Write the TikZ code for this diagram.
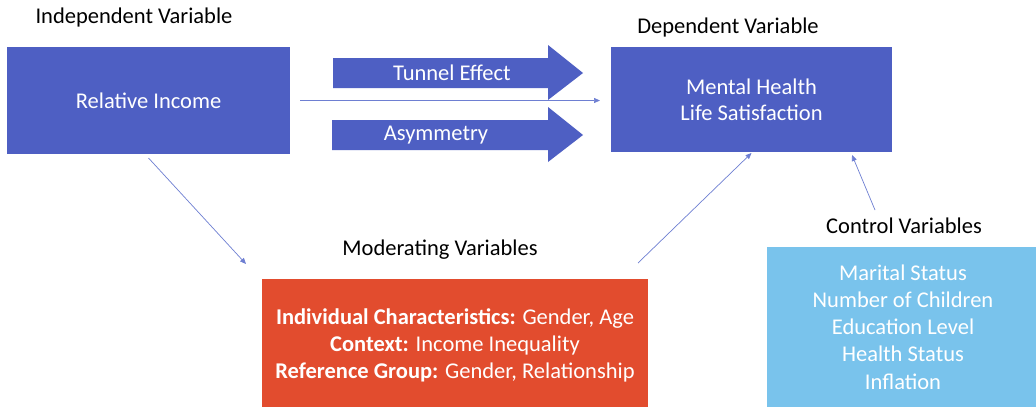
\documentclass[tikz,border=0pt]{standalone}
\usepackage{fontspec}
\setmainfont{Carlito}
\usetikzlibrary{arrows.meta}
\definecolor{boxblue}{HTML}{4E5FC3}
\definecolor{boxred}{HTML}{E24C2E}
\definecolor{boxcyan}{HTML}{79C3EC}
\definecolor{linkblue}{HTML}{6E7FD2}
\tikzset{
  boxbase/.style={rectangle, draw=none, text=white, align=center, font=\fontsize{22.5}{27}\selectfont, inner sep=0pt, outer sep=0pt},
  label/.style={text=black, font=\fontsize{22.5}{27}\selectfont, inner sep=0pt},
  link/.style={draw=linkblue, line width=0.7pt, -{Triangle[length=6pt,width=5pt]}},
  blockarrow/.style={fill=boxblue, draw=none},
  arrowtext/.style={text=white, font=\fontsize{22.5}{27}\selectfont, inner sep=0pt}
}
\begin{document}
\begin{tikzpicture}[x=1pt,y=-1pt]
\useasboundingbox (0,0) rectangle (1036,407);
\fill[white] (0,0) rectangle (1036,407);
% boxes
\node[boxbase, fill=boxblue, minimum width=283pt, minimum height=107pt] (ri) at (148.5,100.5) {Relative Income};
\node[boxbase, fill=boxblue, minimum width=281pt, minimum height=105pt, font=\fontsize{22.5}{26}\selectfont] (dv) at (751.5,99.5) {Mental Health\\Life Satisfaction};
\node[boxbase, fill=boxred, minimum width=386pt, minimum height=128pt] (mvbox) at (455,343) {};
\node[boxbase] (mv) at (455,345) {\textbf{Individual Characteristics:} Gender, Age\\\textbf{Context:} Income Inequality\\\textbf{Reference Group:} Gender, Relationship};
\node[boxbase, fill=boxcyan, minimum width=269pt, minimum height=160pt] (cvbox) at (901.5,327) {};
\node[boxbase, font=\fontsize{22.5}{27.2}\selectfont] (cv) at (903,327) {Marital Status\\Number of Children\\Education Level\\Health Status\\Inflation};
% labels
\node[label] (ivl) at (134,18) {Independent Variable};
\node[label] (dvl) at (728,27) {Dependent Variable};
\node[label] (mvl) at (440,250) {Moderating Variables};
\node[label] (cvl) at (904,226) {Control Variables};
% block arrows
\fill[blockarrow] (333,58) -- (548,58) -- (548,45) -- (583,73) -- (548,100) -- (548,88) -- (333,88) -- cycle;
\node[arrowtext] (te) at (452,73) {Tunnel Effect};
\fill[blockarrow] (332,120) -- (548,120) -- (548,107) -- (583,135) -- (548,162) -- (548,150) -- (332,150) -- cycle;
\node[arrowtext] (as) at (436,135) {Asymmetry};
% connectors
\draw[link] ([xshift=10pt]ri.east) -- ([xshift=-11pt]dv.west |- ri.east);
\coordinate (b2) at (246,264);
\draw[link] ([yshift=-4pt]ri.south) -- (b2);
\coordinate (c1) at (638,263);
\draw[link] (c1) -- ([yshift=-1pt]dv.south);
\coordinate (d1) at (875,210);
\coordinate (d2) at (852,155);
\draw[link] (d1) -- (d2);
\end{tikzpicture}
\end{document}
